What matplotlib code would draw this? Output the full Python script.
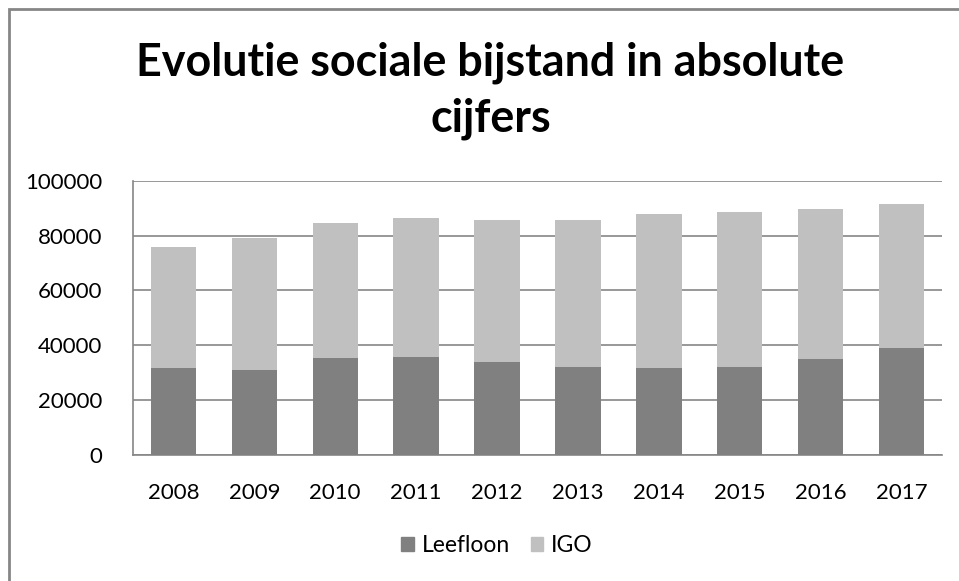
import matplotlib.pyplot as plt
from matplotlib.patches import Rectangle, Patch
import numpy as np

jaren = ["2008", "2009", "2010", "2011", "2012", "2013", "2014", "2015", "2016", "2017"]
leefloon = [31600, 31100, 35200, 35700, 33900, 32100, 31600, 32100, 34900, 39000]
totaal = [75900, 79200, 84400, 86300, 85800, 85800, 87700, 88600, 89600, 91400]
igo = [t - l for t, l in zip(totaal, leefloon)]

plt.rcParams['font.family'] = ['Lato', 'DejaVu Sans']

fig = plt.figure(figsize=(9.59, 5.81), dpi=100)
# rand rond de grafiek (rechts/onder buiten beeld)
fig.patches.append(Rectangle((9 / 959, -0.05), 1.2, 1 - 9 / 581 + 0.05,
                             transform=fig.transFigure, fill=False,
                             edgecolor='#868686', linewidth=2))

ax = fig.add_axes([133 / 959, 126 / 581, 809 / 959, 274.3 / 581])
x = np.arange(len(jaren))
ax.bar(x, leefloon, width=0.56, color='#808080', label='Leefloon', zorder=3)
ax.bar(x, igo, width=0.56, bottom=leefloon, color='#C0C0C0', label='IGO', zorder=3)

ax.set_xlim(-0.5, len(jaren) - 0.5)
ax.set_ylim(0, 100000)
ax.set_yticks(range(0, 100001, 20000))
ax.set_xticks(x)
ax.set_xticklabels(jaren)
ax.yaxis.grid(True, color='#868686', linewidth=1.2, zorder=0)
ax.tick_params(axis='both', length=0, labelsize=16, colors='black')
ax.tick_params(axis='y', pad=22)
ax.tick_params(axis='x', pad=20)
for s in ['top', 'right']:
    ax.spines[s].set_visible(False)
for s in ['left', 'bottom']:
    ax.spines[s].set_color('#868686')
    ax.spines[s].set_linewidth(1.2)

fig.text(490 / 959, 1 - 75 / 581, "Evolutie sociale bijstand in absolute",
         ha='center', va='baseline', fontsize=32.3, fontweight='bold')
fig.text(491 / 959, 1 - 132 / 581, "cijfers",
         ha='center', va='baseline', fontsize=32.3, fontweight='bold')

handles = [Patch(color='#808080', label='Leefloon'), Patch(color='#C0C0C0', label='IGO')]
fig.legend(handles=handles, loc='center', bbox_to_anchor=(497 / 959, 1 - 546 / 581),
           ncol=2, frameon=False, fontsize=16.5, handlelength=0.55, handleheight=0.55,
           handletextpad=0.35, columnspacing=0.9)

fig.savefig("out.png", dpi=100)
